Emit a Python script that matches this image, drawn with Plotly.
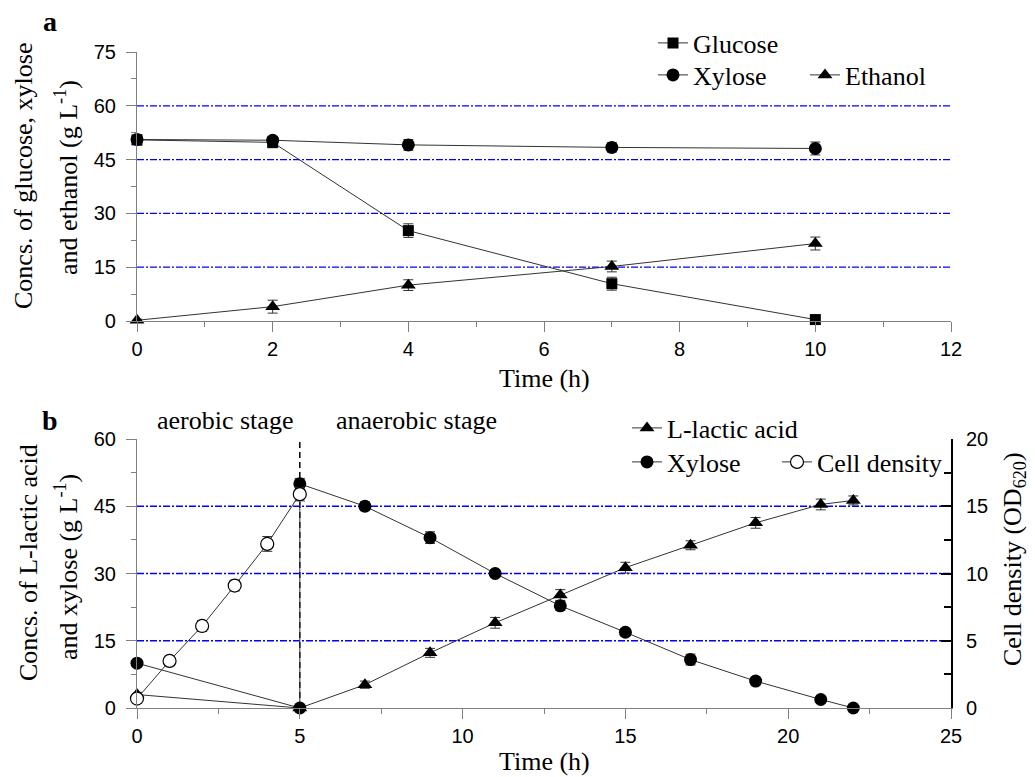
import plotly.graph_objects as go

W, H = 1035, 777

# ---------------- Panel a data ----------------
time_a = [0, 2, 4, 7, 10]
glucose_a = [50.5, 49.8, 25.2, 10.4, 0.4]
glucose_a_err = [1.5, 1.5, 1.9, 1.8, 0.3]
xylose_a = [50.6, 50.4, 49.1, 48.4, 48.1]
xylose_a_err = [1.2, 1.0, 1.5, 1.3, 1.8]
ethanol_a = [0.2, 4.0, 10.0, 15.2, 21.6]
ethanol_a_err = [0.3, 1.8, 1.5, 1.5, 1.8]

# ---------------- Panel b data ----------------
time_b_lactic = [0, 5, 7, 9, 11, 13, 15, 17, 19, 21, 22]
lactic_b = [3.0, 0.0, 5.2, 12.3, 19.0, 25.2, 31.3, 36.3, 41.3, 45.4, 46.3]
lactic_b_err = [0.5, 0.3, 0.8, 1.0, 1.2, 1.2, 1.2, 1.0, 1.2, 1.2, 1.0]
time_b_xylose = [0, 5, 5, 7, 9, 11, 13, 15, 17, 19, 21, 22]
xylose_b = [10.0, 0.0, 50.0, 45.0, 38.0, 30.0, 22.8, 16.9, 10.8, 6.0, 1.9, 0.0]
xylose_b_err = [0.8, 0.3, 1.2, 1.0, 1.3, 0.8, 1.0, 0.8, 1.2, 0.8, 0.6, 0.3]
time_b_cell = [0, 1, 2, 3, 4, 5]
cell_b = [0.7, 3.5, 6.1, 9.1, 12.2, 15.9]
cell_b_err = [0.3, 0.35, 0.4, 0.4, 0.55, 0.5]

grid_a = [15, 30, 45, 60]
grid_b = [15, 30, 45]
stage_switch = [5]

SERIF = "Liberation Serif, Times New Roman, serif"
SANS = "Liberation Sans, Arial, sans-serif"
LINE_C = "#333333"
AXIS_C = "#808080"
GRID_C = "#0000ff"


def px(x):
    return x / W


def py(y):
    return 1 - y / H


def err(arr):
    return dict(type="data", array=arr, visible=True, color=LINE_C, thickness=1, width=5)


fig = go.Figure()

# panel a traces
fig.add_trace(go.Scatter(x=time_a, y=glucose_a, error_y=err(glucose_a_err), name="Glucose",
                         mode="lines+markers", line=dict(color=LINE_C, width=1),
                         marker=dict(symbol="square", size=11, color="black"),
                         xaxis="x", yaxis="y", legend="legend", cliponaxis=False))
fig.add_trace(go.Scatter(x=time_a, y=xylose_a, error_y=err(xylose_a_err), name="Xylose",
                         mode="lines+markers", line=dict(color=LINE_C, width=1),
                         marker=dict(symbol="circle", size=13, color="black"),
                         xaxis="x", yaxis="y", legend="legend2", cliponaxis=False))
fig.add_trace(go.Scatter(x=time_a, y=ethanol_a, error_y=err(ethanol_a_err), name="Ethanol",
                         mode="lines+markers", line=dict(color=LINE_C, width=1),
                         marker=dict(symbol="triangle-up", size=13, color="black"),
                         xaxis="x", yaxis="y", legend="legend3", cliponaxis=False))

# panel b traces
fig.add_trace(go.Scatter(x=time_b_lactic, y=lactic_b, error_y=err(lactic_b_err), name="L-lactic acid",
                         mode="lines+markers", line=dict(color=LINE_C, width=1),
                         marker=dict(symbol="triangle-up", size=13, color="black"),
                         xaxis="x2", yaxis="y2", legend="legend4", cliponaxis=False))
fig.add_trace(go.Scatter(x=time_b_xylose, y=xylose_b, error_y=err(xylose_b_err), name="Xylose",
                         mode="lines+markers", line=dict(color=LINE_C, width=1),
                         marker=dict(symbol="circle", size=13, color="black"),
                         xaxis="x2", yaxis="y2", legend="legend5", cliponaxis=False))
fig.add_trace(go.Scatter(x=time_b_cell, y=cell_b, error_y=err(cell_b_err), name="Cell density",
                         mode="lines+markers", line=dict(color=LINE_C, width=1),
                         marker=dict(symbol="circle", size=13, color="white",
                                     line=dict(color="black", width=1.2)),
                         xaxis="x2", yaxis="y3", legend="legend6", cliponaxis=False))

# grid lines (blue dash-dot)
GRID_DASH = "7px,2px,2px,2px"
for g in grid_a:
    fig.add_shape(type="line", xref="x", yref="y", x0=0, x1=12, y0=g, y1=g,
                  line=dict(color=GRID_C, width=1.3, dash=GRID_DASH), layer="below")
for g in grid_b:
    fig.add_shape(type="line", xref="x2", yref="y2", x0=0, x1=25, y0=g, y1=g,
                  line=dict(color=GRID_C, width=1.3, dash=GRID_DASH), layer="below")
for s in stage_switch:
    fig.add_shape(type="line", xref="x2", yref="y2", x0=s, x1=s, y0=0, y1=60,
                  line=dict(color="black", width=1.5, dash="6px,4px"), layer="below")

xdom = [px(137), px(951)]
tickfont = dict(family=SANS, size=20, color="black")


def xax(rng, dtick, mdtick, anchor):
    return dict(domain=xdom, range=rng, dtick=dtick, tick0=0, ticks="outside", ticklen=10,
                tickcolor=AXIS_C, tickwidth=1, showline=True, linecolor=AXIS_C, linewidth=1.2,
                showgrid=False, zeroline=False, tickfont=tickfont, anchor=anchor,
                minor=dict(dtick=mdtick, tick0=0, ticks="outside", ticklen=5, tickcolor=AXIS_C,
                           showgrid=False))


def yax(dom, rng, dtick, mdtick, anchor):
    return dict(domain=dom, range=rng, dtick=dtick, tick0=0, ticks="outside", ticklen=10,
                tickcolor=AXIS_C, tickwidth=1, showline=True, linecolor=AXIS_C, linewidth=1.2,
                showgrid=False, zeroline=False, tickfont=tickfont, anchor=anchor,
                ticklabelstandoff=6,
                minor=dict(dtick=mdtick, tick0=0, ticks="outside", ticklen=5, tickcolor=AXIS_C,
                           showgrid=False))


legfont = dict(family=SERIF, size=26, color="black")


def leg(xp, yp):
    return dict(x=px(xp), y=py(yp), xanchor="left", yanchor="middle", font=legfont,
                bgcolor="rgba(0,0,0,0)", borderwidth=0, itemwidth=30, tracegroupgap=0,
                orientation="v")


ann = []


def text(x, y, t, size=26, angle=0, bold=False):
    ann.append(dict(x=px(x), y=py(y), xref="paper", yref="paper", text=("<b>%s</b>" % t) if bold else t,
                    showarrow=False, xanchor="center", yanchor="middle", textangle=angle,
                    font=dict(family=SERIF, size=size, color="black")))


text(50, 22, "a", 28, bold=True)
text(50, 420, "b", 28, bold=True)
text(23, 176, "Concs. of glucose, xylose", angle=-90)
text(66, 178, "and ethanol (g L<sup>-1</sup>)", angle=-90)
text(28, 563, "Concs. of L-lactic acid", angle=-90)
text(66, 567, "and xylose (g L<sup>-1</sup>)", angle=-90)
text(1014, 559, "Cell density (OD<sub>620</sub>)", angle=-90)
text(544, 378, "Time (h)")
text(544, 761, "Time (h)")
text(225, 421, "aerobic stage")
text(416, 421, "anaerobic stage")

fig.update_layout(
    width=W, height=H, margin=dict(l=0, r=0, t=0, b=0),
    paper_bgcolor="white", plot_bgcolor="white", template="none",
    showlegend=True,
    xaxis=xax([0, 12], 2, 1, "y"),
    yaxis=yax([py(321), py(52)], [0, 75], 15, 7.5, "x"),
    xaxis2=xax([0, 25], 5, 2.5, "y2"),
    yaxis2=yax([py(708), py(439)], [0, 60], 15, 7.5, "x2"),
    yaxis3=dict(overlaying="y2", side="right", anchor="x2", range=[0, 20], dtick=5, tick0=0,
                ticks="inside", ticklen=10, tickcolor="black", tickwidth=1.5, showline=True,
                linecolor="black", linewidth=2, showgrid=False, zeroline=False, tickfont=tickfont,
                ticklabelstandoff=9,
                minor=dict(dtick=2.5, tick0=0, ticks="inside", ticklen=7, tickcolor="black",
                           showgrid=False)),
    legend=leg(653, 43),
    legend2=leg(653, 75),
    legend3=leg(805, 75),
    legend4=leg(627, 428),
    legend5=leg(627, 462),
    legend6=leg(777, 462),
    annotations=ann,
)

fig.write_html("out.html")
